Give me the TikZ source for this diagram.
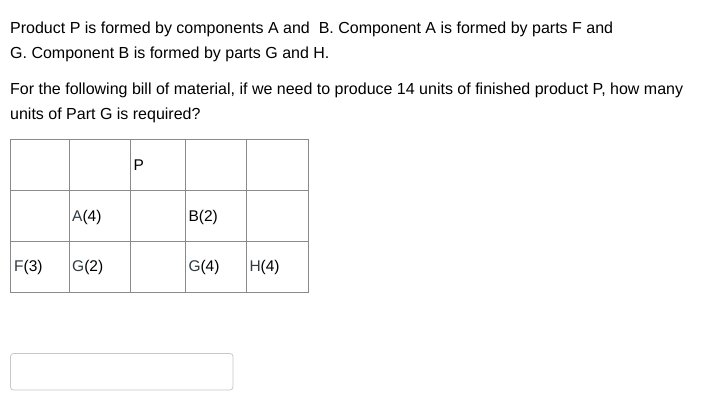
\documentclass[tikz,border=0pt]{standalone}
\usepackage{fontspec}
\setmainfont{Liberation Sans}
\definecolor{slate}{HTML}{2D3B45}
\definecolor{gridgrey}{HTML}{8A8A8A}
\definecolor{boxgrey}{HTML}{C8C8C8}
\begin{document}
\begin{tikzpicture}[x=1pt,y=-1pt,
  qtext/.style={anchor=base west,inner sep=0pt,font=\fontsize{16}{19}\selectfont,text=black},
  cell/.style={anchor=west,inner sep=0pt,font=\fontsize{15.5}{18}\selectfont,text=black},
  grid/.style={draw=gridgrey,line width=0.9pt}]
\useasboundingbox[fill=white] (0,0) rectangle (712,409);
\node[qtext] (l1) at (10,33.3) {Product P is formed by components A and \ B. Component A is formed by parts F and};
\node[qtext] (l2) at (10,58.3) {G. Component B is formed by parts G and H.};
\node[qtext] (l3) at (10,95) {For the following bill of material, if we need to produce 14 units of finished product P, how many};
\node[qtext] (l4) at (10,120) {units of Part G is required?};
% table
\draw[grid] (10.7,139.3) rectangle (308.3,292.3);
\foreach \x in {69.3,130.3,185.3,246.7} \draw[grid] (\x,139.3) -- (\x,292.3);
\foreach \y in {190.7,241.7} \draw[grid] (10.7,\y) -- (308.3,\y);
\node[cell] (p) at (133.5,165) {P};
\node[cell] (a) at (72,217) {\textcolor{slate}{A}(4)};
\node[cell] (b) at (188.3,217) {B(2)};
\node[cell] (f) at (14,267) {\textcolor{slate}{F}(3)};
\node[cell] (g1) at (72,267) {\textcolor{slate}{G}(2)};
\node[cell] (g2) at (188.3,267) {\textcolor{slate}{G}(4)};
\node[cell] (h) at (249.3,267) {\textcolor{slate}{H}(4)};
% answer box
\draw[draw=boxgrey,line width=0.8pt,rounded corners=3pt] (10.5,353.5) rectangle (233,390);
\end{tikzpicture}
\end{document}
